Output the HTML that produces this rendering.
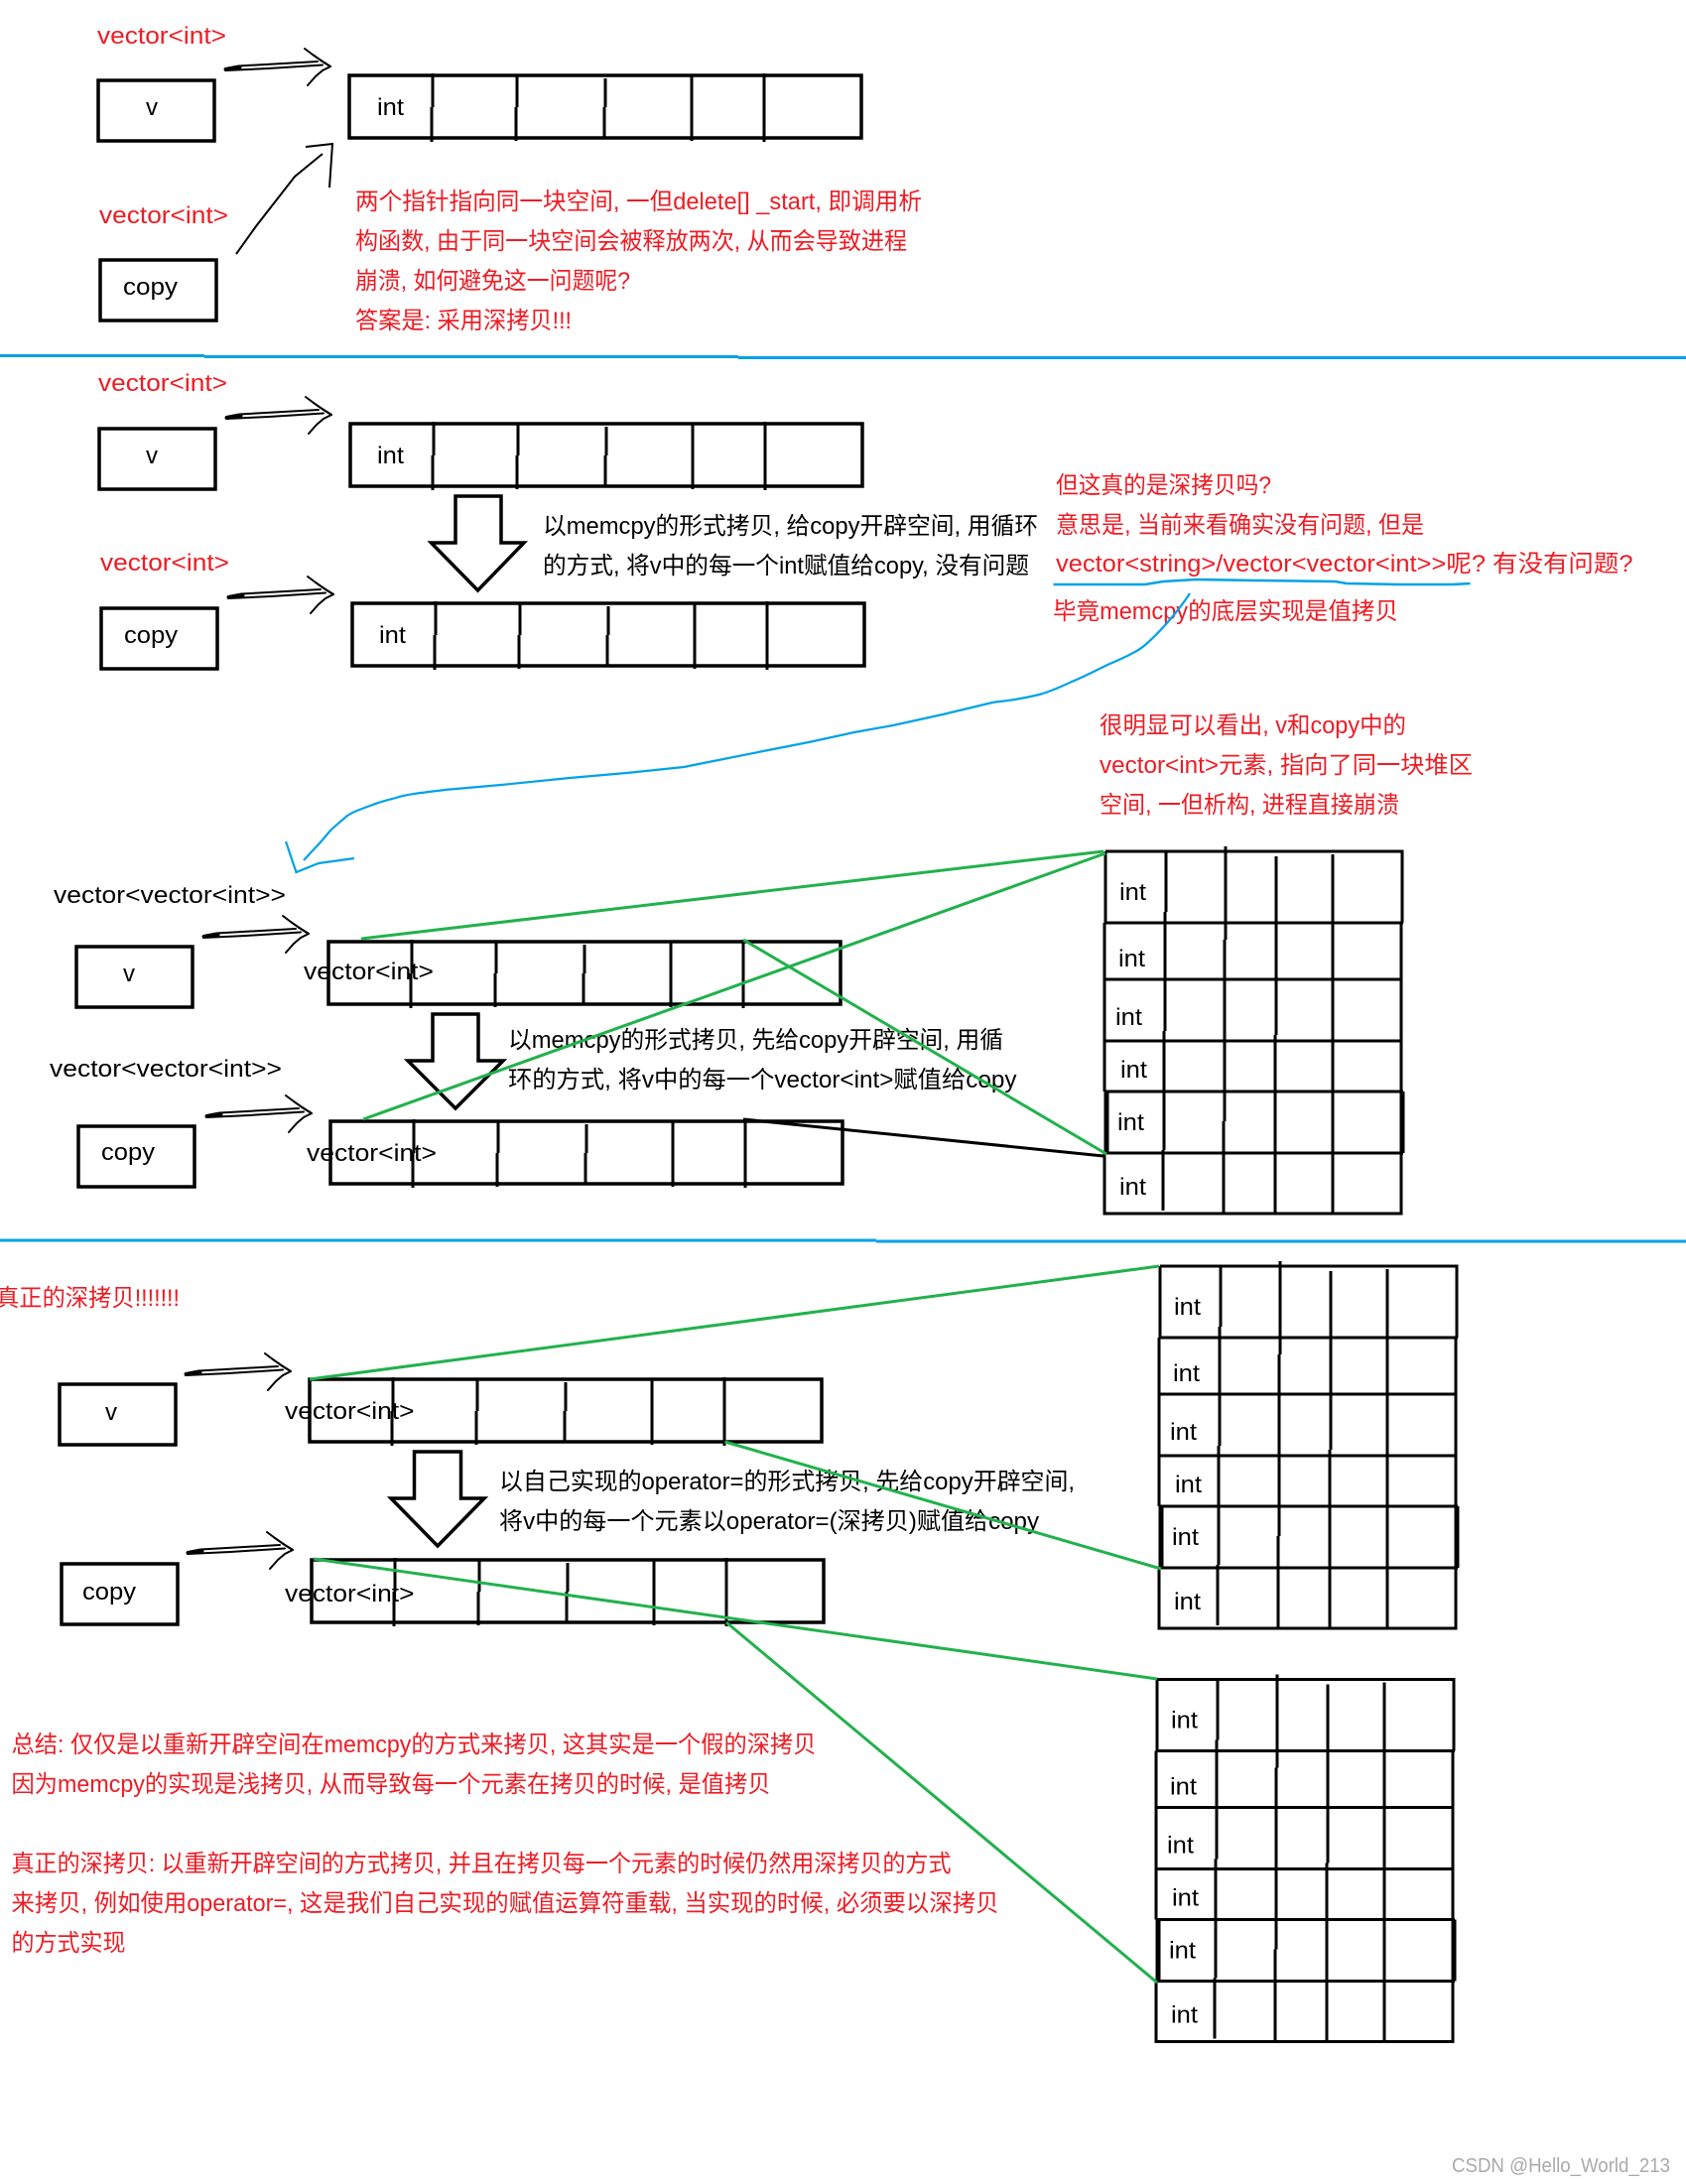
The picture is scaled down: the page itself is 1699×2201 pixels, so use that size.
<!DOCTYPE html>
<html>
<head>
<meta charset="utf-8">
<style>
html,body{margin:0;padding:0;background:#fff;width:1699px;height:2201px;overflow:hidden}
svg{display:block}
text{font-family:"Liberation Sans","Noto Sans CJK SC",sans-serif;font-size:24px}
.r{fill:#ed1c24}
.k{fill:#000}
</style>
</head>
<body>
<svg xmlns="http://www.w3.org/2000/svg" width="1699" height="2201" viewBox="0 0 1699 2201">
<defs>
<g id="arr" fill="none" stroke="#000">
<rect x="0" y="0" width="516" height="63" stroke-width="3.5"/>
<path d="M84 -2V32M83 32V67M169 0V32M168 32V66M258 3V32M257 32V63M345 0V66M418 -2V67" stroke-width="3"/>
</g>
<rect id="box" x="0" y="0" width="117" height="61" fill="none" stroke="#000" stroke-width="3.5"/>
<g id="ptr" fill="none" stroke="#000" stroke-width="2" stroke-linejoin="round" stroke-linecap="round">
<path d="M227 69L240 66.5L320 62"/>
<path d="M227 71L270 69L325 65.5" stroke-width="2"/>
<path d="M227 70L242 68" stroke-width="3"/>
<path d="M307 49L315 55L325 62L333 67L325 71L318 77L310 86"/>
<path d="M322 60L333 67"/>
</g>
<g id="grid" fill="none" stroke="#000" stroke-width="3">
<path d="M1114 858H1413V930M1114 858V930"/>
<path d="M1113 930H1414M1113 930V1049M1412 930V1100"/>
<path d="M1113 987H1412"/>
<path d="M1113 1049H1412"/>
<path d="M1113 1049V1100"/>
<path d="M1113 1100H1414"/>
<path d="M1115 1100V1162M1413 1100V1162" stroke-width="5"/>
<path d="M1113 1162H1414"/>
<path d="M1113 1162V1223H1412V1162"/>
<path d="M1175 858V919M1174 919V1039M1173 1039V1159M1172 1159V1220"/>
<path d="M1235 853V947M1234 947V1130M1233 1130V1223"/>
<path d="M1286 863V1043M1285 1043V1223"/>
<path d="M1343 861V1223"/>
</g>
</defs>
<rect width="1699" height="2201" fill="#fff"/>

<!-- blue dividers -->
<g fill="none" stroke="#00a2e8" stroke-width="3">
<path d="M0 358.5H206"/><path d="M206 359.5H744"/><path d="M744 360.5H1699"/>
<path d="M0 1250H883"/><path d="M883 1251H1699"/>
</g>

<!-- boxes -->
<use href="#box" x="99" y="81"/>
<use href="#box" x="101" y="262"/>
<use href="#box" x="100" y="432"/>
<use href="#box" x="102" y="613"/>
<use href="#box" x="77" y="954"/>
<use href="#box" x="79" y="1135"/>
<use href="#box" x="60" y="1395"/>
<use href="#box" x="62" y="1576"/>

<!-- arrays -->
<use href="#arr" x="352" y="76"/>
<use href="#arr" x="353" y="427"/>
<use href="#arr" x="355" y="608"/>
<use href="#arr" x="331" y="949"/>
<use href="#arr" x="333" y="1130"/>
<use href="#arr" x="312" y="1390"/>
<use href="#arr" x="314" y="1572"/>

<!-- pointers -->
<use href="#ptr"/>
<use href="#ptr" x="1" y="351"/>
<use href="#ptr" x="3" y="532"/>
<use href="#ptr" x="-22" y="874"/>
<use href="#ptr" x="-19" y="1055"/>
<use href="#ptr" x="-40" y="1315"/>
<use href="#ptr" x="-38" y="1495"/>

<!-- hand drawn copy pointer -->
<path d="M238 256L258 228L297 178L325 155" fill="none" stroke="#000" stroke-width="2"/>
<path d="M308 148L335 145L332 189" fill="none" stroke="#000" stroke-width="2"/>

<!-- big down arrows -->
<g fill="#fff" stroke="#000" stroke-width="3.5">
<path d="M459 500H505V547H528L481.5 595L434.5 547H459Z"/>
<path d="M436 1022H482V1069H507L459 1117L411 1069H436Z"/>
<path d="M417.5 1463H464.5V1510H488L441 1558L394 1510H417.5Z"/>
</g>

<!-- grids -->
<use href="#grid"/>
<use href="#grid" x="55" y="418"/>
<use href="#grid" x="52" y="834.5"/>

<!-- labels -->
<text class="r" x="98" y="44" textLength="130" lengthAdjust="spacingAndGlyphs">vector&lt;int&gt;</text>
<text class="k" x="147" y="116" textLength="12" lengthAdjust="spacingAndGlyphs">v</text>
<text class="k" x="380" y="116" textLength="27" lengthAdjust="spacingAndGlyphs">int</text>
<text class="r" x="100" y="225" textLength="130" lengthAdjust="spacingAndGlyphs">vector&lt;int&gt;</text>
<text class="k" x="124" y="297" textLength="55" lengthAdjust="spacingAndGlyphs">copy</text>
<text class="r" x="358" y="211" textLength="571" lengthAdjust="spacingAndGlyphs">两个指针指向同一块空间, 一但delete[] _start, 即调用析</text>
<text class="r" x="358" y="251" textLength="556" lengthAdjust="spacingAndGlyphs">构函数, 由于同一块空间会被释放两次, 从而会导致进程</text>
<text class="r" x="358" y="291" textLength="277" lengthAdjust="spacingAndGlyphs">崩溃, 如何避免这一问题呢?</text>
<text class="r" x="358" y="331" textLength="218" lengthAdjust="spacingAndGlyphs">答案是: 采用深拷贝!!!</text>

<text class="r" x="99" y="394" textLength="130" lengthAdjust="spacingAndGlyphs">vector&lt;int&gt;</text>
<text class="k" x="147" y="467" textLength="12" lengthAdjust="spacingAndGlyphs">v</text>
<text class="k" x="380" y="467" textLength="27" lengthAdjust="spacingAndGlyphs">int</text>
<text class="r" x="101" y="575" textLength="130" lengthAdjust="spacingAndGlyphs">vector&lt;int&gt;</text>
<text class="k" x="125" y="648" textLength="54" lengthAdjust="spacingAndGlyphs">copy</text>
<text class="k" x="382" y="648" textLength="27" lengthAdjust="spacingAndGlyphs">int</text>
<text class="k" x="547" y="538" textLength="499" lengthAdjust="spacingAndGlyphs">以memcpy的形式拷贝, 给copy开辟空间, 用循环</text>
<text class="k" x="547" y="578" textLength="490" lengthAdjust="spacingAndGlyphs">的方式, 将v中的每一个int赋值给copy, 没有问题</text>

<text class="r" x="1064" y="497" textLength="217" lengthAdjust="spacingAndGlyphs">但这真的是深拷贝吗?</text>
<text class="r" x="1064" y="537" textLength="371" lengthAdjust="spacingAndGlyphs">意思是, 当前来看确实没有问题, 但是</text>
<text class="r" x="1064" y="576" textLength="581.5" lengthAdjust="spacingAndGlyphs">vector&lt;string&gt;/vector&lt;vector&lt;int&gt;&gt;呢? 有没有问题?</text>
<text class="r" x="1061" y="624" textLength="348" lengthAdjust="spacingAndGlyphs">毕竟memcpy的底层实现是值拷贝</text>
<text class="r" x="1108" y="739" textLength="309" lengthAdjust="spacingAndGlyphs">很明显可以看出, v和copy中的</text>
<text class="r" x="1108" y="779" textLength="376" lengthAdjust="spacingAndGlyphs">vector&lt;int&gt;元素, 指向了同一块堆区</text>
<text class="r" x="1108" y="819" textLength="302" lengthAdjust="spacingAndGlyphs">空间, 一但析构, 进程直接崩溃</text>

<text class="k" x="54" y="910" textLength="234" lengthAdjust="spacingAndGlyphs">vector&lt;vector&lt;int&gt;&gt;</text>
<text class="k" x="124" y="989" textLength="12" lengthAdjust="spacingAndGlyphs">v</text>
<text class="k" x="306" y="987" textLength="131" lengthAdjust="spacingAndGlyphs">vector&lt;int&gt;</text>
<text class="k" x="512" y="1056" textLength="499" lengthAdjust="spacingAndGlyphs">以memcpy的形式拷贝, 先给copy开辟空间, 用循</text>
<text class="k" x="512" y="1096" textLength="512.5" lengthAdjust="spacingAndGlyphs">环的方式, 将v中的每一个vector&lt;int&gt;赋值给copy</text>
<text class="k" x="50" y="1085" textLength="234" lengthAdjust="spacingAndGlyphs">vector&lt;vector&lt;int&gt;&gt;</text>
<text class="k" x="102" y="1169" textLength="54" lengthAdjust="spacingAndGlyphs">copy</text>
<text class="k" x="309" y="1170" textLength="131" lengthAdjust="spacingAndGlyphs">vector&lt;int&gt;</text>

<text class="r" x="-4" y="1316" textLength="185" lengthAdjust="spacingAndGlyphs">真正的深拷贝!!!!!!!</text>
<text class="k" x="106" y="1431" textLength="12" lengthAdjust="spacingAndGlyphs">v</text>
<text class="k" x="287" y="1430" textLength="130.5" lengthAdjust="spacingAndGlyphs">vector&lt;int&gt;</text>
<text class="k" x="503" y="1501" textLength="580" lengthAdjust="spacingAndGlyphs">以自己实现的operator=的形式拷贝, 先给copy开辟空间,</text>
<text class="k" x="503" y="1541" textLength="544" lengthAdjust="spacingAndGlyphs">将v中的每一个元素以operator=(深拷贝)赋值给copy</text>
<text class="k" x="83" y="1612" textLength="54" lengthAdjust="spacingAndGlyphs">copy</text>
<text class="k" x="287" y="1614" textLength="130.5" lengthAdjust="spacingAndGlyphs">vector&lt;int&gt;</text>

<text class="r" x="11.5" y="1766" textLength="811" lengthAdjust="spacingAndGlyphs">总结: 仅仅是以重新开辟空间在memcpy的方式来拷贝, 这其实是一个假的深拷贝</text>
<text class="r" x="11.5" y="1806" textLength="765" lengthAdjust="spacingAndGlyphs">因为memcpy的实现是浅拷贝, 从而导致每一个元素在拷贝的时候, 是值拷贝</text>
<text class="r" x="11.5" y="1886" textLength="947" lengthAdjust="spacingAndGlyphs">真正的深拷贝: 以重新开辟空间的方式拷贝, 并且在拷贝每一个元素的时候仍然用深拷贝的方式</text>
<text class="r" x="11.5" y="1926" textLength="995" lengthAdjust="spacingAndGlyphs">来拷贝, 例如使用operator=, 这是我们自己实现的赋值运算符重载, 当实现的时候, 必须要以深拷贝</text>
<text class="r" x="11.5" y="1966" textLength="115" lengthAdjust="spacingAndGlyphs">的方式实现</text>

<!-- grid labels -->
<g class="k">
<text x="1128" y="907" textLength="27" lengthAdjust="spacingAndGlyphs">int</text>
<text x="1127" y="974" textLength="27" lengthAdjust="spacingAndGlyphs">int</text>
<text x="1124" y="1033" textLength="27" lengthAdjust="spacingAndGlyphs">int</text>
<text x="1129" y="1086" textLength="27" lengthAdjust="spacingAndGlyphs">int</text>
<text x="1126" y="1139" textLength="27" lengthAdjust="spacingAndGlyphs">int</text>
<text x="1128" y="1204" textLength="27" lengthAdjust="spacingAndGlyphs">int</text>

<text x="1183" y="1325" textLength="27" lengthAdjust="spacingAndGlyphs">int</text>
<text x="1182" y="1392" textLength="27" lengthAdjust="spacingAndGlyphs">int</text>
<text x="1179" y="1451" textLength="27" lengthAdjust="spacingAndGlyphs">int</text>
<text x="1184" y="1504" textLength="27" lengthAdjust="spacingAndGlyphs">int</text>
<text x="1181" y="1557" textLength="27" lengthAdjust="spacingAndGlyphs">int</text>
<text x="1183" y="1622" textLength="27" lengthAdjust="spacingAndGlyphs">int</text>

<text x="1180" y="1741.5" textLength="27" lengthAdjust="spacingAndGlyphs">int</text>
<text x="1179" y="1808.5" textLength="27" lengthAdjust="spacingAndGlyphs">int</text>
<text x="1176" y="1867.5" textLength="27" lengthAdjust="spacingAndGlyphs">int</text>
<text x="1181" y="1920.5" textLength="27" lengthAdjust="spacingAndGlyphs">int</text>
<text x="1178" y="1973.5" textLength="27" lengthAdjust="spacingAndGlyphs">int</text>
<text x="1180" y="2038.5" textLength="27" lengthAdjust="spacingAndGlyphs">int</text>
</g>

<!-- green and black connectors -->
<g fill="none" stroke="#22b14c" stroke-width="3">
<path d="M364 946L1112 858"/>
<path d="M366 1128L1114 860"/>
<path d="M749 947L1115 1163"/>
<path d="M312 1390L1168 1276"/>
<path d="M730.5 1453L1170 1581"/>
<path d="M316 1571L1166 1692"/>
<path d="M732 1635L1166 1998"/>
</g>
<path d="M749 1128L1112 1165" fill="none" stroke="#000" stroke-width="3"/>

<!-- blue hand-drawn line and underline -->
<path d="M1061.5 589L1154 589L1172 586L1205 584L1267 585L1345.5 586L1357 588L1408 589L1464 589L1481.5 588" fill="none" stroke="#00a2e8" stroke-width="2.5"/>
<path d="M1199 598C1188 615 1170 636 1154 650C1146 657 1130 664 1116 670C1100 678 1090 683 1080 687C1065 694 1055 698 1047 700C1035 703 1028 704 1022 705C1010 707 1005 707 1000 708L950 720L900 731L861 738L815 748L769 757L729 765L689 773L631 779L574 784L505 791L448 796C425 799 412 800 399 804C388 807 380 809 373 812C362 816 356 818 350 822C342 829 338 832 333 837C326 845 324 848 319 853L306 867" fill="none" stroke="#00a2e8" stroke-width="2.2"/>
<path d="M288 848L298.5 879L321 870L357 865" fill="none" stroke="#00a2e8" stroke-width="2.2"/>

<text x="1463" y="2189" textLength="220" lengthAdjust="spacingAndGlyphs" style="font-size:20px;fill:#aaa">CSDN @Hello_World_213</text>
</svg>
</body>
</html>
